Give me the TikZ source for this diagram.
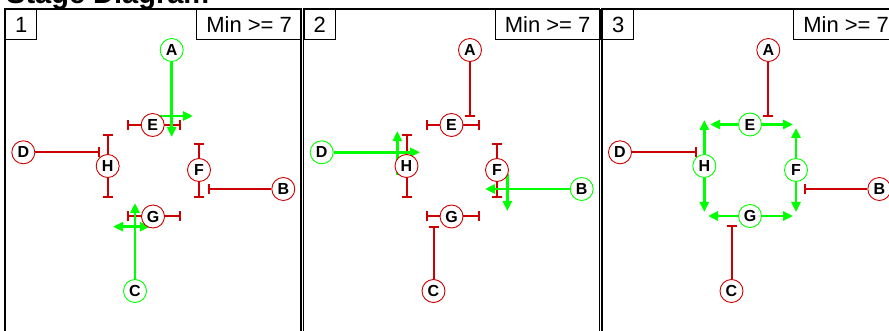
\documentclass[tikz,border=0pt]{standalone}
\usepackage{fontspec}
\setmainfont{Liberation Sans}
\usetikzlibrary{arrows.meta,backgrounds}
\definecolor{inh}{RGB}{204,0,0}
\definecolor{act}{RGB}{0,255,0}
\tikzset{
  gene/.style={circle, draw, fill=white, line width=0.9pt, minimum size=23pt, inner sep=0pt,
    font=\fontsize{16}{16}\selectfont\bfseries},
  ongene/.style={gene, draw=act},
  offgene/.style={gene, draw=inh},
  inhib/.style={draw=inh, line width=2pt, -{Bar[width=10pt]}},
  stub/.style={draw=inh, line width=2pt, {Bar[width=10pt]}-{Bar[width=10pt]}},
  actarr/.style={draw=act, line width=2.5pt, -{Triangle[length=10pt,width=9pt]}},
  frame/.style={draw, line width=1.3pt},
  tag/.style={draw, line width=1.3pt, font=\fontsize{22}{22}\selectfont, inner sep=0pt, anchor=north west},
}
\newcommand\panelframe[1]{%
  \draw[frame] (5,9) rectangle (301,345);
  \node[tag, minimum width=31pt, minimum height=30pt] (num#1) at (5,9) {#1};
  \node[tag, minimum width=105pt, minimum height=30pt] (min#1) at (196,9) {Min >= 7};
}
\begin{document}
\begin{tikzpicture}[x=1pt,y=-1pt]
\useasboundingbox (0,0) rectangle (889,331);
\begin{scope}
\clip (0,0) rectangle (889,331);
\begin{scope}
\clip (0,-30) rectangle (889,8);
\node[anchor=base west, font=\fontsize{29}{29}\selectfont\bfseries, inner sep=0pt] (title) at (6,4) {Stage Diagram};
\end{scope}

% ---------------- Panel 1 ----------------
\begin{scope}
\panelframe{1}
\node[ongene] (A1) at (171.7,50) {A};
\node[offgene] (E1) at (152.7,125) {E};
\node[offgene] (H1) at (107.7,166) {H};
\node[offgene] (F1) at (199,170) {F};
\node[offgene] (D1) at (23.3,152.3) {D};
\node[offgene] (B1) at (283.3,189) {B};
\node[offgene] (G1) at (153,216.5) {G};
\node[ongene] (C1) at (135,291) {C};
\coordinate (E1a) at (127,125); \coordinate (E1b) at (181,125);
\coordinate (H1a) at (107.7,134); \coordinate (H1b) at (107.7,198.3);
\coordinate (F1a) at (199,143.3); \coordinate (F1b) at (199,198.3);
\coordinate (G1a) at (127,216.5); \coordinate (G1b) at (181,216.5);
\coordinate (D1t) at (100,152.3);
\coordinate (B1t) at (208.3,189);
\coordinate (A1t) at (171.7,137);
\coordinate (E1s) at (150,116); \coordinate (E1e) at (193,116);
\coordinate (C1t) at (135,203);
\coordinate (G1s) at (150,226.7); \coordinate (G1e) at (113,226.7);
\begin{pgfonlayer}{background}
\draw[stub] (E1a) -- (E1b);
\draw[stub] (H1a) -- (H1b);
\draw[stub] (F1a) -- (F1b);
\draw[stub] (G1a) -- (G1b);
\draw[inhib] (D1) -- (D1t);
\draw[inhib] (B1) -- (B1t);
\draw[actarr] (A1) -- (A1t);
\draw[actarr] (E1s) -- (E1e);
\draw[actarr] (C1) -- (C1t);
\draw[actarr, {Triangle[length=10pt,width=9pt]}-{Triangle[length=10pt,width=9pt]}] (G1s) -- (G1e);
\end{pgfonlayer}
\end{scope}

% ---------------- Panel 2 ----------------
\begin{scope}[xshift=298.5pt]
\panelframe{2}
\node[offgene] (A2) at (171.5,50) {A};
\node[offgene] (E2) at (153,125) {E};
\node[offgene] (H2) at (108,166) {H};
\node[offgene] (F2) at (198.5,170) {F};
\node[ongene] (D2) at (23.2,152.3) {D};
\node[ongene] (B2) at (283.2,189) {B};
\node[offgene] (G2) at (153,216.5) {G};
\node[offgene] (C2) at (135,291) {C};
\coordinate (E2a) at (127,125); \coordinate (E2b) at (181,125);
\coordinate (H2a) at (108,134); \coordinate (H2b) at (108,198.3);
\coordinate (F2a) at (198.5,143.3); \coordinate (F2b) at (198.5,198.3);
\coordinate (G2a) at (127,216.5); \coordinate (G2b) at (181,216.5);
\coordinate (A2t) at (171.5,117);
\coordinate (D2t) at (121.5,152.3);
\coordinate (H2s) at (98.8,175); \coordinate (H2e) at (98.8,131);
\coordinate (B2t) at (186.5,189);
\coordinate (F2s) at (208.8,174); \coordinate (F2e) at (208.8,211);
\coordinate (C2t) at (135,226);
\begin{pgfonlayer}{background}
\draw[stub] (E2a) -- (E2b);
\draw[stub] (H2a) -- (H2b);
\draw[stub] (F2a) -- (F2b);
\draw[stub] (G2a) -- (G2b);
\draw[inhib] (A2) -- (A2t);
\draw[inhib] (C2) -- (C2t);
\draw[actarr] (D2) -- (D2t);
\draw[actarr] (H2s) -- (H2e);
\draw[actarr] (B2) -- (B2t);
\draw[actarr] (F2s) -- (F2e);
\end{pgfonlayer}
\end{scope}

% ---------------- Panel 3 ----------------
\begin{scope}[xshift=597pt]
\panelframe{3}
\node[offgene] (A3) at (171.3,50) {A};
\node[ongene] (E3) at (153,124.5) {E};
\node[ongene] (H3) at (107.3,166) {H};
\node[ongene] (F3) at (199,170) {F};
\node[offgene] (D3) at (23,152.3) {D};
\node[offgene] (B3) at (282.3,189) {B};
\node[ongene] (G3) at (153,216) {G};
\node[offgene] (C3) at (134.5,291) {C};
\coordinate (A3t) at (171.3,117);
\coordinate (D3t) at (99.7,152.3);
\coordinate (B3t) at (207,189);
\coordinate (C3t) at (134.5,225);
\coordinate (E3l) at (113,124.5); \coordinate (E3r) at (196,124.5);
\coordinate (H3u) at (107.3,120); \coordinate (H3d) at (107.3,212);
\coordinate (F3u) at (199,128); \coordinate (F3d) at (199,212);
\coordinate (G3l) at (111,216); \coordinate (G3r) at (196,216);
\begin{pgfonlayer}{background}
\draw[inhib] (A3) -- (A3t);
\draw[inhib] (D3) -- (D3t);
\draw[inhib] (B3) -- (B3t);
\draw[inhib] (C3) -- (C3t);
\draw[actarr] (E3) -- (E3l);
\draw[actarr] (E3) -- (E3r);
\draw[actarr] (H3) -- (H3u);
\draw[actarr] (H3) -- (H3d);
\draw[actarr] (F3) -- (F3u);
\draw[actarr] (F3) -- (F3d);
\draw[actarr] (G3) -- (G3l);
\draw[actarr] (G3) -- (G3r);
\end{pgfonlayer}
\end{scope}
\end{scope}
\end{tikzpicture}
\end{document}
